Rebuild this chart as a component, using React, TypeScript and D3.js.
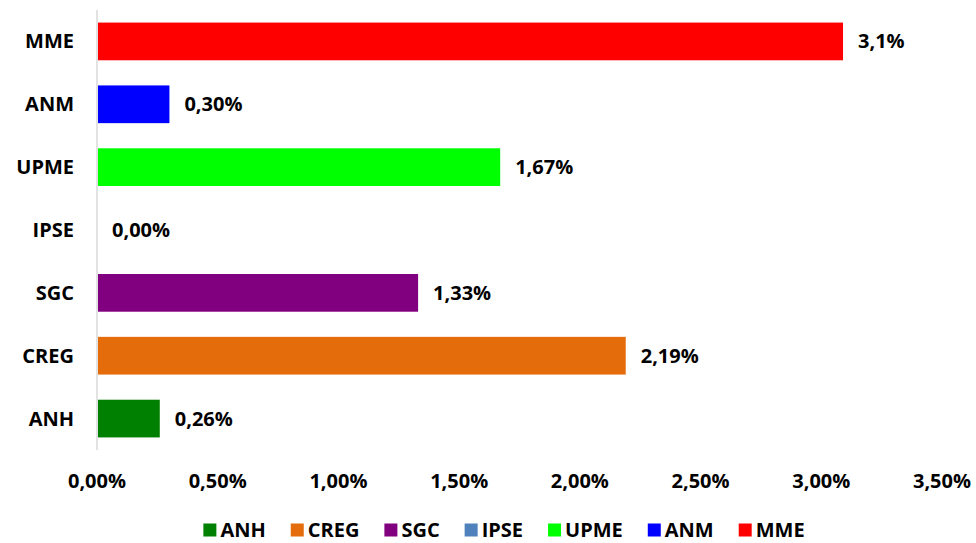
import React, { useEffect, useRef } from "react";
import * as d3 from "d3";

const categories = ["ANH", "CREG", "SGC", "IPSE", "UPME", "ANM", "MME"];
const values = [0.26, 2.19, 1.33, 0.0, 1.67, 0.3, 3.09];
const valueLabels = ["0,26%", "2,19%", "1,33%", "0,00%", "1,67%", "0,30%", "3,1%"];
const colors = ["#008000", "#E46C0A", "#800080", "#4F81BD", "#00FF00", "#0000FF", "#FF0000"];
const ticks = [0, 0.5, 1, 1.5, 2, 2.5, 3, 3.5];

const W = 976;
const H = 543;
const FONT = "'Open Sans', sans-serif";
const FS = 20;

export default function App() {
  const ref = useRef<SVGSVGElement>(null);

  useEffect(() => {
    const svg = d3.select(ref.current);
    svg.selectAll("*").remove();

    const x = d3.scaleLinear().domain([0, 3.5]).range([97, 942]);
    const y = d3
      .scaleBand<string>()
      .domain(categories.slice().reverse())
      .range([10, 450])
      .paddingInner(0.4)
      .paddingOuter(0.2);

    svg
      .append("g")
      .selectAll("rect")
      .data(categories)
      .join("rect")
      .attr("x", x(0) + 1)
      .attr("y", (d) => y(d)!)
      .attr("width", (d, i) => Math.max(0, x(values[i]) - x(0) - 1))
      .attr("height", y.bandwidth())
      .attr("fill", (d, i) => colors[i]);

    svg
      .append("line")
      .attr("x1", x(0))
      .attr("x2", x(0))
      .attr("y1", 10)
      .attr("y2", 450)
      .attr("stroke", "#d9d9d9")
      .attr("stroke-width", 1.5);

    svg
      .append("g")
      .selectAll("text")
      .data(categories)
      .join("text")
      .attr("x", 74)
      .attr("y", (d) => y(d)! + y.bandwidth() / 2)
      .attr("dy", "0.35em")
      .attr("text-anchor", "end")
      .attr("font-family", FONT)
      .attr("font-weight", "bold")
      .attr("font-size", FS)
      .attr("fill", "#000")
      .text((d) => d);

    svg
      .append("g")
      .selectAll("text")
      .data(categories)
      .join("text")
      .attr("x", (d, i) => x(values[i]) + 15)
      .attr("y", (d) => y(d)! + y.bandwidth() / 2)
      .attr("dy", "0.35em")
      .attr("font-family", FONT)
      .attr("font-weight", "bold")
      .attr("font-size", FS)
      .attr("fill", "#000")
      .text((d, i) => valueLabels[i]);

    svg
      .append("g")
      .selectAll("text")
      .data(ticks)
      .join("text")
      .attr("x", (d) => x(d))
      .attr("y", 481)
      .attr("dy", "0.35em")
      .attr("text-anchor", "middle")
      .attr("font-family", FONT)
      .attr("font-weight", "bold")
      .attr("font-size", FS)
      .attr("fill", "#000")
      .text((d) => d.toFixed(2).replace(".", ",") + "%");

    const lg = svg.append("g");
    const sq = 13;
    const gapText = 4;
    const gapItem = 25;
    const items = categories.map((c, i) => {
      const g = lg.append("g");
      g.append("rect").attr("width", sq).attr("height", sq).attr("y", -sq / 2).attr("fill", colors[i]);
      const t = g
        .append("text")
        .attr("x", sq + gapText)
        .attr("dy", "0.35em")
        .attr("font-family", FONT)
        .attr("font-weight", "bold")
        .attr("font-size", FS)
        .attr("fill", "#000")
        .text(c);
      const w = (t.node() as SVGTextElement).getComputedTextLength();
      return { g, w: sq + gapText + w };
    });
    const total = d3.sum(items, (d) => d.w) + gapItem * (items.length - 1);
    let cx = (W - total) / 2 + 16;
    items.forEach((it) => {
      it.g.attr("transform", `translate(${cx},530)`);
      cx += it.w + gapItem;
    });
  }, []);

  return (
    <svg
      ref={ref}
      width={W}
      height={H}
      style={{ position: "absolute", left: 0, top: 0, background: "#fff" }}
    />
  );
}
